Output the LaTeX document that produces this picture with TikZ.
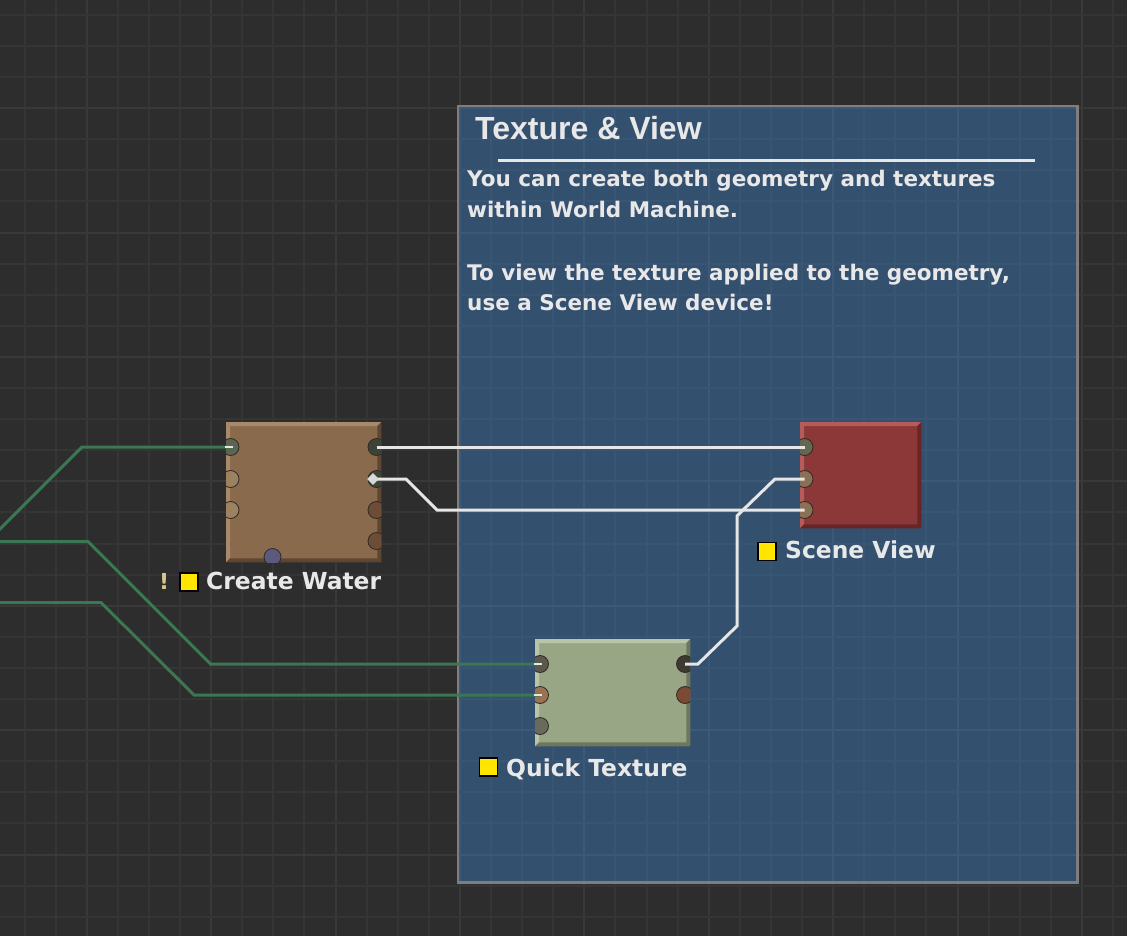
\documentclass[tikz,border=0pt]{standalone}
\usepackage{fontspec}
\setmainfont{DejaVu Sans}
\newfontfamily\titlefont{Liberation Sans}
\usetikzlibrary{shapes.geometric}
\definecolor{bgcol}{HTML}{2D2D2D}
\definecolor{gridminor}{HTML}{353535}
\definecolor{gridmajor}{HTML}{393939}
\definecolor{panelfill}{HTML}{34506F}
\definecolor{pgridminor}{HTML}{395574}
\definecolor{pgridmajor}{HTML}{3C5978}
\definecolor{panelborder}{HTML}{7E7E7E}
\definecolor{cwmain}{HTML}{8A6A4D}
\definecolor{cwlight}{HTML}{A88A6B}
\definecolor{cwdark}{HTML}{5E4632}
\definecolor{svmain}{HTML}{8C3838}
\definecolor{svlight}{HTML}{B65B5B}
\definecolor{svdark}{HTML}{692525}
\definecolor{qtmain}{HTML}{98A686}
\definecolor{qtlight}{HTML}{BAC4A8}
\definecolor{qtdark}{HTML}{6D775D}
\definecolor{wirewhite}{HTML}{E6E6E6}
\definecolor{wiregreen}{HTML}{3B7752}
\definecolor{txtcol}{HTML}{E8E8E8}
\definecolor{sqyellow}{HTML}{FFE500}
\definecolor{warncol}{HTML}{D8C88C}
\definecolor{portline}{HTML}{2E2A26}
\definecolor{pOlive}{HTML}{5E6452}
\definecolor{pTan}{HTML}{9E8160}
\definecolor{pDark}{HTML}{3E4337}
\definecolor{pBrown}{HTML}{6E4C36}
\definecolor{pPurple}{HTML}{5C5A7C}
\definecolor{pSvOlive}{HTML}{65674F}
\definecolor{pSvTan}{HTML}{8A7055}
\definecolor{pQtGray}{HTML}{5C584C}
\definecolor{pQtTan}{HTML}{9A7452}
\definecolor{pQtGray2}{HTML}{6A6A5C}
\definecolor{pQtDark}{HTML}{3C3A31}
\definecolor{pQtBrown}{HTML}{7A4A35}
\definecolor{diacol}{HTML}{D8D8D8}
\tikzset{
  gline/.style={draw=gridminor, line width=2pt},
  gmajor/.style={draw=gridmajor, line width=2pt},
  pgline/.style={draw=pgridminor, line width=2pt},
  pgmajor/.style={draw=pgridmajor, line width=2pt},
  port/.style={circle, minimum size=17pt, inner sep=0pt, draw=portline, line width=0.8pt},
  wirew/.style={draw=wirewhite, line width=3pt},
  wireg/.style={draw=wiregreen, line width=3pt},
  wiretip/.style={draw=wirewhite, line width=2.2pt},
  lbl/.style={text=txtcol, anchor=base west, inner sep=0pt, font=\bfseries\fontsize{23.4}{26}\selectfont},
  bodytxt/.style={text=txtcol, anchor=base west, inner sep=0pt, font=\bfseries\fontsize{21.5}{31}\selectfont},
  ysq/.style={draw=black, line width=1.5pt, fill=sqyellow, minimum size=18pt, inner sep=0pt},
}
\newcommand\mkdevice[6]{%
  \node[inner sep=0pt, minimum width=#4pt, minimum height=#5pt, anchor=north west, fill=#6main] (#1) at (#2,#3) {};
  \fill[#6light] (#1.north west) -- (#1.north east) -- ([shift={(-4,4)}]#1.north east) -- ([shift={(4,4)}]#1.north west) -- ([shift={(4,-4)}]#1.south west) -- (#1.south west) -- cycle;
  \fill[#6dark] (#1.south east) -- (#1.north east) -- ([shift={(-4,4)}]#1.north east) -- ([shift={(-4,-4)}]#1.south east) -- ([shift={(4,-4)}]#1.south west) -- (#1.south west) -- cycle;
}
\newcommand\mkgrid[2]{%
  \foreach \k in {0,...,36} {
    \pgfmathsetmacro\xx{round(24.5+31.1*\k)}
    \pgfmathtruncatemacro\m{mod(\k,4)}
    \ifnum\m=2 \draw[#2] (\xx,0) -- (\xx,936); \else \draw[#1] (\xx,0) -- (\xx,936); \fi
  }
  \foreach \k in {0,...,30} {
    \pgfmathsetmacro\yy{round(14.8+31.1*\k)}
    \pgfmathtruncatemacro\m{mod(\k,4)}
    \ifnum\m=3 \draw[#2] (0,\yy) -- (1127,\yy); \else \draw[#1] (0,\yy) -- (1127,\yy); \fi
  }
}
\begin{document}
\begin{tikzpicture}[x=1pt,y=-1pt]
\useasboundingbox (0,0) rectangle (1127,936);
\fill[bgcol] (0,0) rectangle (1127,936);
% background grid
\mkgrid{gline}{gmajor}
% panel
\node[inner sep=0pt, minimum width=619pt, minimum height=776pt, anchor=north west, fill=panelfill] (panel) at (458,106) {};
\begin{scope}
  \clip (panel.south west) rectangle (panel.north east);
  \mkgrid{pgline}{pgmajor}
\end{scope}
\draw[panelborder, line width=2.2pt] (panel.north west) rectangle (panel.south east);
% panel texts
\node[anchor=base west, inner sep=0pt, text=txtcol, font=\titlefont\bfseries\fontsize{32}{32}\selectfont] (title) at (475,139.5) {Texture \& View};
\coordinate (ruleA) at (498,161);
\coordinate (ruleB) at (1035,161);
\draw[wirewhite, line width=3pt] (ruleA) -- (ruleB);
\node[bodytxt] (b1) at (467,187) {You can create both geometry and textures};
\node[bodytxt] (b2) at (467,217.5) {within World Machine.};
\node[bodytxt] (b3) at (467,280.5) {To view the texture applied to the geometry,};
\node[bodytxt] (b4) at (467,310.5) {use a Scene View device!};
% devices
\mkdevice{cw}{226}{422}{155}{140}{cw}
\mkdevice{sv}{800}{422}{121}{106}{sv}
\mkdevice{qt}{535}{639}{155}{107}{qt}
% ports
\begin{scope}
  \clip (cw.north west) rectangle (cw.south east);
  \node[port, fill=pOlive] (cwL1) at (230.5,447) {};
  \node[port, fill=pTan] (cwL2) at (230.5,479) {};
  \node[port, fill=pTan] (cwL3) at (230.5,510) {};
  \node[port, fill=pDark] (cwR1) at (376.5,447) {};
  \node[port, fill=pDark] (cwR2) at (376.5,479) {};
  \node[port, fill=pBrown] (cwR3) at (376.5,510) {};
  \node[port, fill=pBrown] (cwR4) at (376.5,541) {};
  \node[port, fill=pPurple] (cwB) at (272.5,557) {};
\end{scope}
\begin{scope}
  \clip (sv.north west) rectangle (sv.south east);
  \node[port, fill=pSvOlive] (svL1) at (804.5,447) {};
  \node[port, fill=pSvTan] (svL2) at (804.5,479) {};
  \node[port, fill=pSvTan] (svL3) at (804.5,510) {};
\end{scope}
\begin{scope}
  \clip (qt.north west) rectangle (qt.south east);
  \node[port, fill=pQtGray] (qtL1) at (540,664) {};
  \node[port, fill=pQtTan] (qtL2) at (540,695) {};
  \node[port, fill=pQtGray2] (qtL3) at (540,726) {};
  \node[port, fill=pQtDark] (qtR1) at (685,664) {};
  \node[port, fill=pQtBrown] (qtR2) at (685,695) {};
\end{scope}
% green wires from off-screen
\coordinate (gA) at (-6,535);
\coordinate (gB) at (-6,541.5);
\coordinate (gC) at (-6,602.5);
\draw[wireg] (gA) -- (82,447) -- (cwL1.center);
\draw[wireg] (gB) -- (88,541.5) -- (210.5,664) -- (qtL1.center);
\draw[wireg] (gC) -- (101,602.5) -- (194,695) -- (qtL2.center);
\draw[wiretip] ([xshift=-6pt]cwL1.center) -- ([xshift=2pt]cwL1.center);
\draw[wiretip] ([xshift=-6pt]qtL1.center) -- ([xshift=2pt]qtL1.center);
\draw[wiretip] ([xshift=-6pt]qtL2.center) -- ([xshift=2pt]qtL2.center);
% white wires
\draw[wirew] (cwR1.center) -- (svL1.center);
\draw[wirew] (cwR2.center) -- (406,479) -- (437,510) -- (svL3.center);
\draw[wirew] (qtR1.center) -- (698,664) -- (737,626) -- (737,516) -- (743,510) -- (775,479) -- (svL2.center);
\node[diamond, fill=diacol, minimum size=12pt, inner sep=0pt] (dia) at (373,479) {};
% labels
\node[text=warncol, anchor=base west, inner sep=0pt, font=\bfseries\fontsize{22}{26}\selectfont] (warn) at (159,589) {!};
\node[ysq] (cwsq) at (189,582) {};
\node[lbl] (cwlbl) at (206,589) {Create Water};
\node[ysq] (svsq) at (767,551.5) {};
\node[lbl] (svlbl) at (785,558.5) {Scene View};
\node[ysq] (qtsq) at (488.5,767) {};
\node[lbl] (qtlbl) at (506,776) {Quick Texture};
\end{tikzpicture}
\end{document}
